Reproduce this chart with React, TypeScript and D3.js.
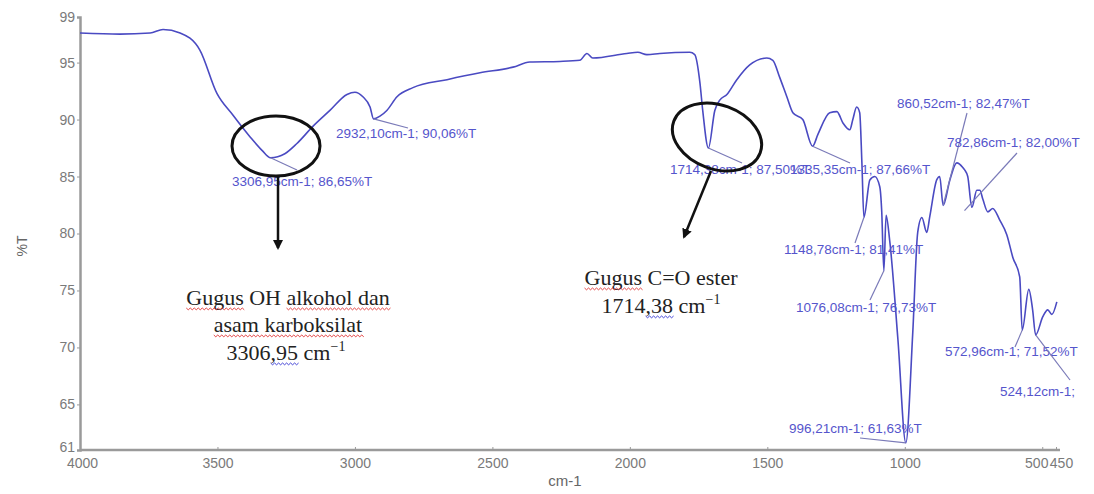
import React, { useEffect, useRef } from 'react';
import * as d3 from 'd3';

// FTIR spectrum
const wavenumber = [4000, 3855, 3745, 3698, 3636, 3564, 3502, 3444, 3382, 3338, 3306.95, 3255, 3211, 3153, 3091, 3029, 3000, 2971, 2945, 2932.1, 2909, 2884, 2847, 2789, 2665, 2545, 2425, 2364, 2255, 2182, 2156, 2135, 2011, 1971, 1938, 1891, 1782, 1764, 1745, 1735, 1714.38, 1691, 1673, 1647, 1611, 1564, 1502, 1480, 1455, 1429, 1407, 1371, 1335.35, 1316, 1273, 1247, 1225, 1200, 1189, 1175, 1164, 1156, 1148.78, 1127, 1109, 1091, 1084, 1076.08, 1068, 1055, 1025, 996.21, 971, 953, 938, 920, 909, 884, 873, 860.52, 836, 811, 789, 782.86, 771, 756, 738, 727, 716, 698, 680, 655, 629, 607, 582, 572.96, 549, 535, 524.12, 498, 480, 465, 447];
const transmittance = [97.6, 97.5, 97.6, 97.9, 97.6, 96.1, 92.3, 90.4, 88.5, 87.3, 86.65, 87.0, 87.9, 89.4, 90.8, 92.2, 92.4, 92.0, 91.1, 90.06, 90.3, 90.8, 92.0, 92.8, 93.5, 94.1, 94.6, 95.05, 95.1, 95.2, 95.8, 95.4, 95.8, 95.9, 95.7, 95.8, 95.9, 95.7, 93.2, 90.8, 87.5, 90.8, 91.7, 92.2, 93.5, 94.8, 95.4, 95.2, 93.7, 92.0, 90.6, 90.0, 87.66, 88.7, 90.6, 90.7, 89.7, 89.1, 90.0, 91.1, 90.6, 86.2, 81.41, 84.7, 85.0, 84.1, 82.0, 76.73, 81.6, 79.4, 70.7, 61.63, 71.3, 80.1, 81.4, 80.1, 81.5, 84.7, 85.0, 82.47, 84.7, 86.2, 85.8, 85.6, 85.0, 82.3, 83.8, 83.8, 83.0, 81.9, 82.2, 81.2, 79.9, 77.9, 76.2, 71.52, 75.1, 73.3, 71.1, 72.7, 73.3, 72.9, 74.0];

const x_ticks = [4000, 3500, 3000, 2500, 2000, 1500, 1000, 500, 450];
const y_ticks = [99, 95, 90, 85, 80, 75, 70, 65, 61];

// marked peaks
const peak_wn = [3306.95, 2932.1, 1714.38, 1335.35, 1148.78, 1076.08, 996.21, 860.52, 782.86, 572.96, 524.12];
const peak_t = [86.65, 90.06, 87.5, 87.66, 81.41, 76.73, 61.63, 82.47, 82.0, 71.52, 71.1];
const peak_text = ['3306,95cm-1; 86,65%T', '2932,10cm-1; 90,06%T', '1714,38cm-1; 87,50%T', '1335,35cm-1; 87,66%T', '1148,78cm-1; 81,41%T', '1076,08cm-1; 76,73%T', '996,21cm-1; 61,63%T', '860,52cm-1; 82,47%T', '782,86cm-1; 82,00%T', '572,96cm-1; 71,52%T', '524,12cm-1;'];
// where each label sits (pixels): leader end x,y and text x,y
const label_layout = [
  [297, 170, 232, 186], [408, 128, 336, 138], [742, 163, 670, 174], [850, 163, 790, 174],
  [855, 243, 784, 254], [870, 300, 796, 312], [860, 438, 789, 433], [967, 113, 897, 108],
  [1017, 153, 947, 147], [1015, 347, 945, 356], [1070, 380, 1000, 396]
];

const W = 1094, H = 494;
const margin = { top: 17, left: 80, right: 1094 - 1056, bottom: 494 - 450 };

function App() {
  const ref = useRef(null);

  useEffect(() => {
    const svg = d3.select(ref.current);
    svg.selectAll('*').remove();

    const x_scale = d3.scaleLinear().domain([4000, 450]).range([margin.left, W - margin.right]);
    const y_scale = d3.scaleLinear().domain([61, 99]).range([H - margin.bottom, margin.top]);
    const axis_col = '#9a9a9a';
    const tick_col = '#7a7a7a';

    // x axis
    const xa = svg.append('g').attr('transform', `translate(0, ${H - margin.bottom})`)
      .call(d3.axisBottom(x_scale).tickValues(x_ticks).tickSizeInner(-3).tickSizeOuter(0).tickFormat(d3.format('d')));
    xa.select('.domain').attr('stroke', axis_col).attr('stroke-width', 2.5).attr('d', `M${margin.left},0H${W - margin.right + 4}`);
    xa.selectAll('line').attr('stroke', axis_col);
    xa.selectAll('text').attr('fill', tick_col).attr('dy', '1.05em')
      .style('font-family', 'Liberation Sans, Arial, sans-serif').style('font-size', '14px');
    xa.selectAll('.tick').filter(d => d === 4000).select('text').attr('dx', 2);
    xa.selectAll('.tick').filter(d => d === 500).select('text').attr('dx', -6);
    xa.selectAll('.tick').filter(d => d === 450).select('text').attr('dx', 5);

    // y axis
    const ya = svg.append('g').attr('transform', `translate(${margin.left}, 0)`)
      .call(d3.axisLeft(y_scale).tickValues(y_ticks).tickSize(3).tickPadding(2));
    ya.select('.domain').attr('stroke', axis_col).attr('stroke-width', 2.5);
    ya.selectAll('line').attr('stroke', axis_col);
    ya.selectAll('text').attr('fill', tick_col)
      .style('font-family', 'Liberation Sans, Arial, sans-serif').style('font-size', '14px');
    ya.selectAll('.tick').filter(d => d === 61).select('text').attr('dy', '0.1em');

    // axis titles
    svg.append('text').attr('x', 565).attr('y', 486).attr('text-anchor', 'middle')
      .attr('fill', '#666').style('font-family', 'Liberation Sans, Arial, sans-serif').style('font-size', '15px')
      .text('cm-1');
    svg.append('text').attr('transform', 'translate(27, 246) rotate(-90)').attr('text-anchor', 'middle')
      .attr('fill', '#666').style('font-family', 'Liberation Sans, Arial, sans-serif').style('font-size', '14px')
      .text('%T');

    // spectrum
    const pts = wavenumber.map((w, i) => [w, transmittance[i]]);
    const line = d3.line().x(d => x_scale(d[0])).y(d => y_scale(d[1])).curve(d3.curveMonotoneX);
    svg.append('path').datum(pts).attr('d', line).attr('fill', 'none')
      .attr('stroke', '#4a4ac2').attr('stroke-width', 1.6);

    // peak labels
    peak_wn.forEach((w, i) => {
      const [lx, ly, tx, ty] = label_layout[i];
      svg.append('line').attr('x1', x_scale(w)).attr('y1', y_scale(peak_t[i])).attr('x2', lx).attr('y2', ly)
        .attr('stroke', '#7a7ab8').attr('stroke-width', 1.2);
      svg.append('text').attr('x', tx).attr('y', ty).attr('fill', '#5555cc')
        .style('font-family', 'Liberation Sans, Arial, sans-serif').style('font-size', '13.5px')
        .text(peak_text[i]);
    });

    // circles and arrows
    const defs = svg.append('defs');
    defs.append('marker').attr('id', 'head').attr('viewBox', '0 0 10 10').attr('refX', 8).attr('refY', 5)
      .attr('markerWidth', 4).attr('markerHeight', 4).attr('orient', 'auto')
      .append('path').attr('d', 'M0,0L10,5L0,10Z').attr('fill', '#111');

    svg.append('ellipse').attr('cx', 276).attr('cy', 146).attr('rx', 44).attr('ry', 30)
      .attr('fill', 'none').attr('stroke', '#111').attr('stroke-width', 3);
    svg.append('ellipse').attr('transform', 'translate(717, 137) rotate(20)').attr('rx', 46).attr('ry', 32)
      .attr('fill', 'none').attr('stroke', '#111').attr('stroke-width', 3);
    svg.append('line').attr('x1', 278).attr('y1', 176).attr('x2', 278).attr('y2', 248)
      .attr('stroke', '#111').attr('stroke-width', 2.5).attr('marker-end', 'url(#head)');
    svg.append('line').attr('x1', 711).attr('y1', 171).attr('x2', 684).attr('y2', 237)
      .attr('stroke', '#111').attr('stroke-width', 2.5).attr('marker-end', 'url(#head)');

    // note texts with spell-check squiggles
    const squiggle = (x0, x1, y, col) => {
      let d = `M${x0},${y}`;
      for (let x = x0, k = 0; x < x1; x += 2, k++) d += `L${x + 2},${y + (k % 2 ? 0 : 1.8)}`;
      svg.append('path').attr('d', d).attr('fill', 'none').attr('stroke', col).attr('stroke-width', 0.9);
    };
    const note = (cx, y, parts) => {
      const t = svg.append('text').attr('x', cx).attr('y', y).attr('text-anchor', 'middle').attr('fill', '#222')
        .style('font-family', 'Liberation Serif, Times New Roman, serif').style('font-size', '22px');
      parts.forEach(p => {
        const ts = t.append('tspan').text(p.s);
        if (p.sup) ts.attr('dy', -9).style('font-size', '14px');
      });
      const node = t.node();
      parts.forEach((p, i) => {
        if (!p.sq) return;
        let start = 0;
        for (let j = 0; j < i; j++) start += parts[j].s.length;
        const a = node.getStartPositionOfChar(start).x;
        const b = node.getEndPositionOfChar(start + p.s.length - 1).x;
        squiggle(a, b, y + 3, p.sq);
      });
    };
    const red = '#e03030', blue = '#3030d0';
    note(288, 305, [{ s: 'Gugus', sq: red }, { s: ' OH ' }, { s: 'alkohol dan', sq: red }]);
    note(288, 332, [{ s: 'asam karboksilat', sq: red }]);
    note(286, 360, [{ s: '3306' }, { s: ',95', sq: blue }, { s: ' cm' }, { s: '−1', sup: true }]);
    note(661, 285, [{ s: 'Gugus', sq: red }, { s: ' C=O ester' }]);
    note(661, 313, [{ s: '1714' }, { s: ',38', sq: blue }, { s: ' cm' }, { s: '−1', sup: true }]);
  }, []);

  return (
    <div style={{ position: 'absolute', left: 0, top: 0 }}>
      <svg ref={ref} width={W} height={H} style={{ display: 'block', background: '#fff' }}></svg>
    </div>
  );
}

export default App;
